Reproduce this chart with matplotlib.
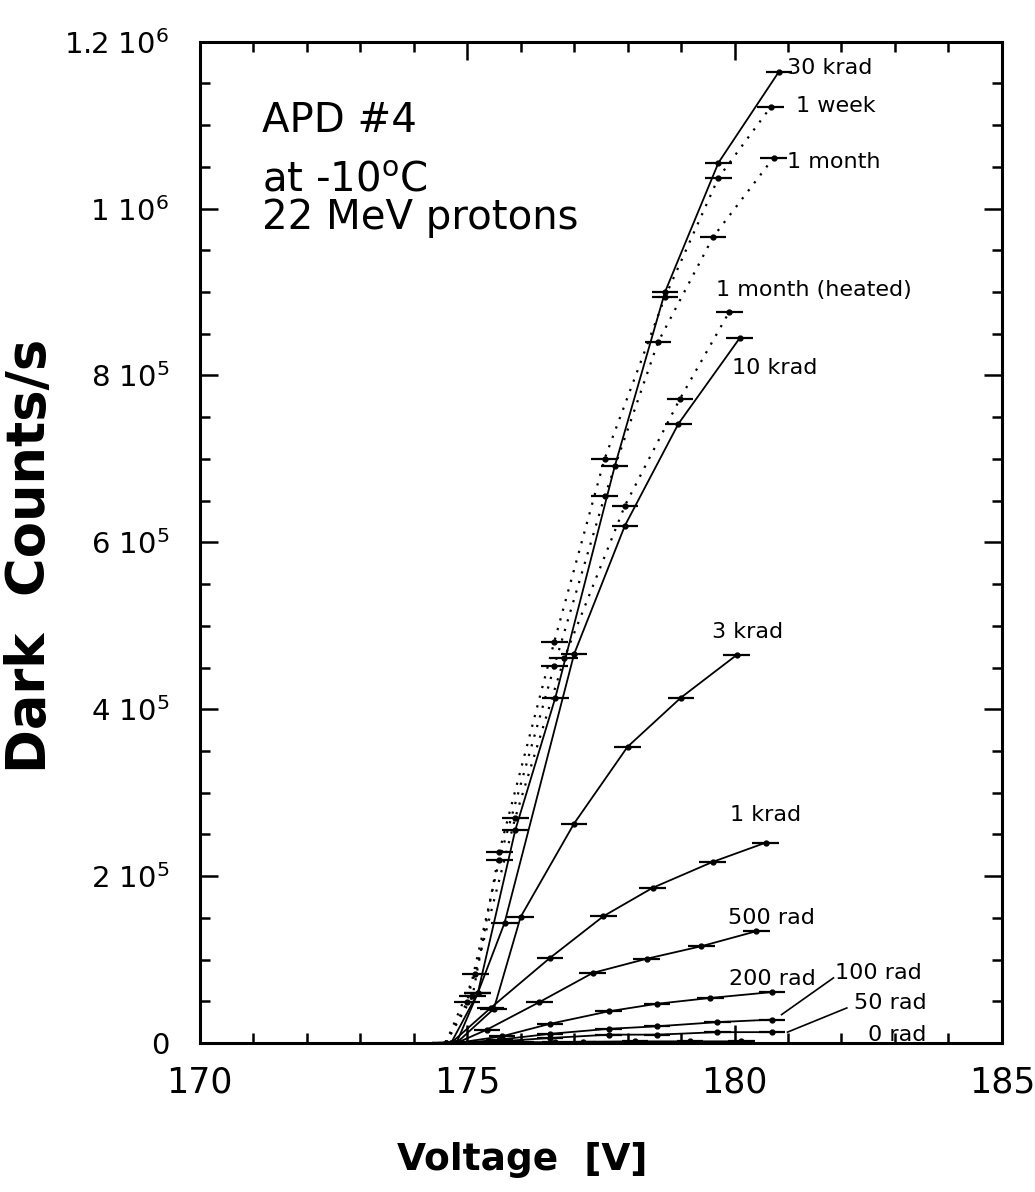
import matplotlib
matplotlib.use("Agg")
import matplotlib.pyplot as plt
from matplotlib.ticker import MultipleLocator, FixedLocator

# curves: voltage [V] and dark counts [1e6 counts/s]
v_30k = [174.7, 175.2, 175.9, 176.65, 177.76, 178.70, 179.70, 180.83]
c_30k = [0.0, 0.06, 0.255, 0.414, 0.691, 0.900, 1.055, 1.164]
v_week = [174.6, 175.1, 175.6, 176.63, 177.57, 178.70, 179.70, 180.68]
c_week = [0.0, 0.056, 0.229, 0.481, 0.700, 0.894, 1.037, 1.122]
v_month = [174.6, 175.0, 175.6, 176.63, 177.57, 178.57, 179.6, 180.73]
c_month = [0.0, 0.049, 0.219, 0.452, 0.655, 0.840, 0.966, 1.061]
v_heat = [174.6, 175.15, 175.9, 176.82, 177.95, 178.98, 179.9]
c_heat = [0.0, 0.083, 0.27, 0.462, 0.644, 0.772, 0.876]
v_10k = [174.8, 175.2, 175.7, 177.0, 177.95, 178.95, 180.1]
c_10k = [0.0, 0.06, 0.144, 0.466, 0.620, 0.742, 0.845]
v_3k = [174.8, 175.5, 176.0, 177.0, 178.0, 179.0, 180.04]
c_3k = [0.0, 0.041, 0.151, 0.263, 0.355, 0.414, 0.465]
v_1k = [174.7, 175.44, 176.55, 177.55, 178.47, 179.59, 180.58]
c_1k = [0.0, 0.042, 0.102, 0.152, 0.186, 0.217, 0.240]
v_500 = [174.8, 175.37, 176.35, 177.35, 178.36, 179.38, 180.41]
c_500 = [0.0, 0.016, 0.049, 0.084, 0.101, 0.116, 0.134]
v_200 = [174.8, 175.65, 176.55, 177.65, 178.55, 179.55, 180.7]
c_200 = [0.0, 0.008, 0.023, 0.038, 0.047, 0.054, 0.061]
v_100 = [174.9, 175.6, 176.55, 177.65, 178.55, 179.68, 180.7]
c_100 = [0.0, 0.004, 0.011, 0.017, 0.020, 0.025, 0.028]
v_50 = [174.9, 175.6, 176.55, 177.65, 178.55, 179.68, 180.7]
c_50 = [0.0, 0.002, 0.006, 0.010, 0.010, 0.013, 0.013]
v_0 = [174.9, 175.5, 176.0, 176.65, 177.16, 178.14, 179.17, 180.13]
c_0 = [0.0, 0.0005, 0.001, 0.001, 0.0015, 0.002, 0.002, 0.002]

curves = [
    ("30 krad", v_30k, c_30k, "-"),
    ("1 week", v_week, c_week, ":"),
    ("1 month", v_month, c_month, ":"),
    ("1 month (heated)", v_heat, c_heat, ":"),
    ("10 krad", v_10k, c_10k, "-"),
    ("3 krad", v_3k, c_3k, "-"),
    ("1 krad", v_1k, c_1k, "-"),
    ("500 rad", v_500, c_500, "-"),
    ("200 rad", v_200, c_200, "-"),
    ("100 rad", v_100, c_100, "-"),
    ("50 rad", v_50, c_50, "-"),
    ("0 rad", v_0, c_0, "-"),
]

# label anchors (left edge, centre) in data units
label_v = [180.98, 181.15, 180.98, 179.66, 179.96, 179.57, 179.92, 179.87, 179.9, 181.88, 182.24, 182.49]
label_c = [1.169, 1.123, 1.056, 0.902, 0.809, 0.492, 0.273, 0.150, 0.077, 0.084, 0.048, 0.010]
# pointer lines for the two crowded labels
pointer_from = {"100 rad": (180.88, 0.034), "50 rad": (180.99, 0.013)}
pointer_to = {"100 rad": (181.85, 0.078), "50 rad": (182.1, 0.042)}

ytick_vals = [0, 0.2, 0.4, 0.6, 0.8, 1.0, 1.2]
ytick_text = ["0", r"2 10$^5$", r"4 10$^5$", r"6 10$^5$", r"8 10$^5$", r"1 10$^6$", r"1.2 10$^6$"]
xtick_vals = [170, 175, 180, 185]

narrow = ["DejaVu Sans Condensed", "Liberation Sans Narrow", "DejaVu Sans"]

fig = plt.figure(figsize=(10.35, 11.92), dpi=100)
ax = fig.add_axes([0.193, 0.125, 0.775, 0.840])

for (name, v, c, ls), lv, lc in zip(curves, label_v, label_c):
    if ls == ":":
        ax.plot(v, c, color="black", lw=1.6, linestyle=(0, (1, 3.5)))
    else:
        ax.plot(v, c, color="black", lw=1.3)
    ax.errorbar(v, c, xerr=0.25, fmt="o", color="black", ms=3.5,
                elinewidth=1.6, capsize=0)
    ax.text(lv, lc, name, fontsize=16, ha="left", va="center")
    if name in pointer_from:
        x0, y0 = pointer_from[name]
        x1, y1 = pointer_to[name]
        ax.plot([x0, x1], [y0, y1], color="black", lw=1.2)

ax.text(0.077, 0.910, "APD #4", transform=ax.transAxes, fontsize=29, va="baseline")
ax.text(0.077, 0.850, r"at -10$^\mathregular{o}$C", transform=ax.transAxes, fontsize=29, va="baseline")
ax.text(0.077, 0.813, "22 MeV protons", transform=ax.transAxes, fontsize=29, va="baseline")

ax.set_xlim(170, 185)
ax.set_ylim(0, 1.2)
ax.xaxis.set_major_locator(FixedLocator(xtick_vals))
ax.xaxis.set_minor_locator(MultipleLocator(1))
ax.yaxis.set_major_locator(FixedLocator(ytick_vals))
ax.yaxis.set_minor_locator(MultipleLocator(0.05))
ax.set_yticklabels(ytick_text, fontsize=21)
ax.set_xticklabels([str(t) for t in xtick_vals], fontsize=25, family=narrow)

ax.tick_params(which="both", direction="in", top=True, right=True, width=1.8)
ax.tick_params(which="major", length=13)
ax.tick_params(which="minor", length=7)
ax.tick_params(axis="x", pad=16)
ax.tick_params(axis="y", pad=22)
for s in ax.spines.values():
    s.set_linewidth(2.2)

fig.text(522 / 1035, 1 - 1160 / 1192, "Voltage  [V]", fontsize=27, fontweight="bold",
         family=narrow, ha="center", va="center")
fig.text(30 / 1035, 1 - 556 / 1192, "Dark  Counts/s", fontsize=38, fontweight="bold",
         family=narrow, ha="center", va="center", rotation=90)

fig.savefig("out.png", dpi=100)
